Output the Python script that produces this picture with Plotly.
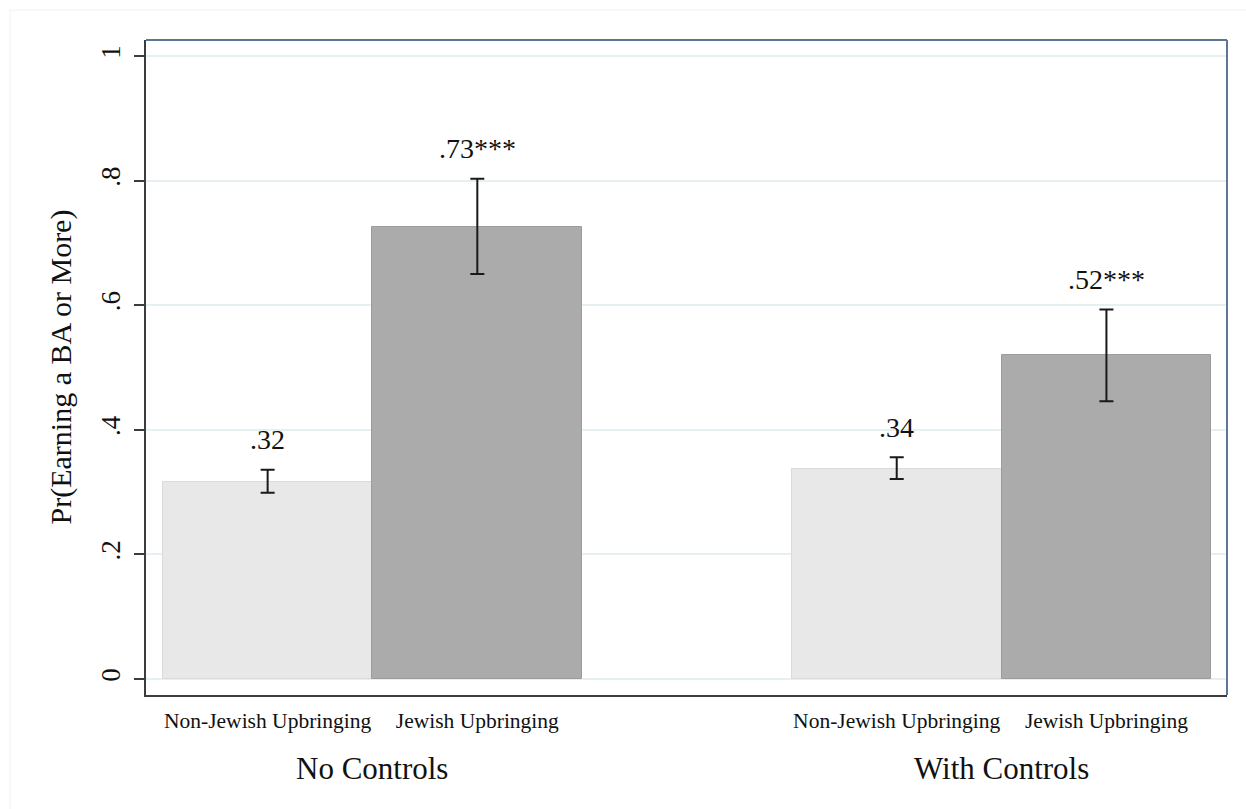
import plotly.graph_objects as go

# Predicted probabilities of earning a BA or more, by upbringing and model
groups = ["No Controls", "With Controls"]
categories = ["Non-Jewish Upbringing", "Jewish Upbringing"]
values = [0.316, 0.726, 0.337, 0.520]
ci_low = [0.299, 0.650, 0.321, 0.446]
ci_high = [0.336, 0.803, 0.356, 0.593]
value_labels = [".32", ".73***", ".34", ".52***"]
y_ticks = [0, 0.2, 0.4, 0.6, 0.8, 1]
y_tick_text = ["0", ".2", ".4", ".6", ".8", "1"]

# bar slots: each group has two adjacent bars, with a one-bar gap between groups
x_pos = [0.5, 1.5, 3.5, 4.5]
group_centers = [1, 4]
bar_colors = ["#e8e8e8", "#ababab"]
bar_lines = ["#dadada", "#9c9c9c"]

FONT = "Liberation Serif, Times New Roman, serif"
TXT = "#111111"

fig = go.Figure()
for k in range(2):
    idx = [k, k + 2]
    fig.add_trace(go.Bar(
        x=[x_pos[i] for i in idx],
        y=[values[i] for i in idx],
        width=1.0,
        marker=dict(color=bar_colors[k], line=dict(color=bar_lines[k], width=1)),
        error_y=dict(
            type="data",
            symmetric=False,
            array=[ci_high[i] - values[i] for i in idx],
            arrayminus=[values[i] - ci_low[i] for i in idx],
            color="#1a1a1a",
            thickness=2,
            width=7,
        ),
        showlegend=False,
        hoverinfo="skip",
    ))

# value labels above the confidence intervals
for x, top, lab in zip(x_pos, ci_high, value_labels):
    fig.add_annotation(
        x=x, y=top, text=lab, showarrow=False, yanchor="middle", yshift=30,
        font=dict(family=FONT, size=28, color=TXT),
    )

# group titles beneath the category labels
for gx, g in zip(group_centers, groups):
    fig.add_annotation(
        x=gx, y=0, xref="x", yref="paper", text=g, showarrow=False,
        yanchor="middle", yshift=-73,
        font=dict(family=FONT, size=31, color=TXT),
    )

# y-axis title
fig.add_annotation(
    x=0, y=0.5, xref="paper", yref="paper", text="Pr(Earning a BA or More)",
    textangle=-90, showarrow=False, xanchor="center", yanchor="middle",
    xshift=-86, font=dict(family=FONT, size=30, color=TXT),
)

# plot region outline: top and right edges in steel blue
fig.add_shape(type="line", xref="paper", yref="paper", x0=0, x1=1, y0=1, y1=1,
              line=dict(color="#5b7795", width=2))
fig.add_shape(type="line", xref="paper", yref="paper", x0=1, x1=1, y0=0, y1=1,
              line=dict(color="#5b7795", width=2))
# faint outer graph-region border
fig.add_shape(type="rect", xref="paper", yref="paper",
              x0=-0.1258, x1=1.05, y0=-0.3, y1=1.0458,
              line=dict(color="#f2f2f2", width=1), layer="below")

fig.update_layout(
    width=1246, height=809,
    margin=dict(l=146, r=19, t=40, b=114),
    paper_bgcolor="white", plot_bgcolor="white",
    bargap=0, barmode="overlay",
    font=dict(family=FONT, color=TXT),
    xaxis=dict(
        range=[-0.08, 5.075],
        tickvals=x_pos,
        ticktext=categories * 2,
        tickfont=dict(family=FONT, size=21.5, color=TXT),
        ticks="", showgrid=False, zeroline=False,
        showline=True, linecolor="#3a3d40", linewidth=2,
        ticklabelstandoff=5,
    ),
    yaxis=dict(
        range=[-0.0257, 1.0257],
        tickvals=y_ticks, ticktext=y_tick_text,
        tickangle=-90,
        tickfont=dict(family=FONT, size=27, color=TXT),
        ticks="outside", ticklen=10, tickwidth=2, tickcolor="#3a3d40",
        showgrid=True, gridcolor="#e6eff1", gridwidth=2,
        zeroline=False,
        showline=True, linecolor="#3a3d40", linewidth=2,
        ticklabelstandoff=3,
    ),
)

fig.write_html("out.html")
